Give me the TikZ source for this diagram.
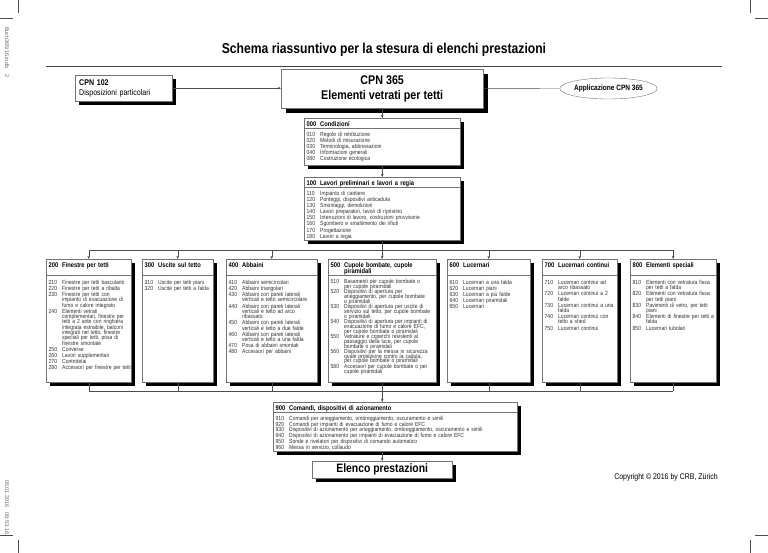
\documentclass[tikz,border=0pt]{standalone}
\usepackage{fontspec}
\setmainfont{Liberation Sans}
\newfontfamily\condfont[FakeStretch=0.85]{Liberation Sans}
\usetikzlibrary{arrows.meta,shadows,shapes.geometric}

\def\numw{13.5pt}
\def\ig{0.8pt}
\def\npkskip{5.3}
\def\headdrop{2.8pt}
\def\sepdrop{16.5pt}
\def\listdrop{19.2pt}

\tikzset{
  panel/.style={draw=black!55, line width=0.4pt, fill=white, inner sep=0pt,
    drop shadow={shadow xshift=#1, shadow yshift=-#1, fill=black, opacity=1}},
  panel/.default=4pt,
  headtext/.style={inner sep=0pt, align=left,
    font={\condfont\bfseries\fontsize{6.8}{5.8}\selectfont\lineskiplimit=-10pt\parskip=0pt}},
  itemtext/.style={inner sep=0pt, align=left, text=black!80,
    font={\condfont\fontsize{5.9}{\npkskip}\selectfont\lineskiplimit=-10pt\parskip=\ig}},
  sepline/.style={draw=black!55, line width=0.3pt},
  link/.style={draw=black!70, line width=0.4pt, -{Stealth[length=3.2pt,width=2.6pt]}},
  joinline/.style={draw=black!70, line width=0.4pt},
  crop/.style={draw=black!70, line width=0.4pt},
  margintext/.style={rotate=-90, anchor=west, inner sep=0pt, text=black!60,
    font=\fontsize{5.5}{6}\selectfont}
}

% one numbered entry, continuation lines hang under the text
\newcommand{\itm}[2]{\par\hangindent=\numw\hangafter=1\noindent\makebox[\numw][l]{#1}#2\par}

% box with header, separator and item list
\newcommand{\npkbox}[7]{%
  \node[panel, anchor=north west, minimum width=#4pt, minimum height=#5pt] (#1) at (#2,-#3) {};
  \node[headtext, text width=#4pt, anchor=north west] (#1h)
    at ([shift={(2.5pt,-\headdrop)}]#1.north west) {#6};
  \draw[sepline] ([yshift=-\sepdrop]#1.north west) -- ([yshift=-\sepdrop]#1.north east);
  \node[itemtext, text width=#4pt, anchor=north west] (#1i)
    at ([shift={(2.5pt,-\listdrop)}]#1.north west) {#7};
}

\begin{document}
\begin{tikzpicture}[x=1pt,y=1pt]
  \useasboundingbox (0,0) rectangle (768,-553);

  % Crop marks and margin notes
  \foreach \vx/\hx in {18/0,750/755}{
    \draw[crop] (\vx,0) -- (\vx,-13);
    \draw[crop] (\vx,-540) -- (\vx,-553);
    \draw[crop] (\hx,-18) -- (\hx+13,-18);
    \draw[crop] (\hx,-535) -- (\hx+13,-535);
  }
  \node[margintext] (file) at (7,-27) {Buch365i16.indb\hspace{6pt}2};
  \node[margintext] (stamp) at (7,-480) {05.01.2016\hspace{5pt}08:53:16};

  % Title and rule
  \node[font=\condfont\bfseries\fontsize{14.3}{16}\selectfont] (title) at (384,-50)
    {Schema riassuntivo per la stesura di elenchi prestazioni};
  \draw[line width=0.8pt, black!75] (46,-66) -- (722,-66);

  % Top row
  \node[panel, anchor=north west, minimum height=26pt, text width=89pt, inner xsep=4pt,
    align=left, font=\condfont\fontsize{8.3}{10}\selectfont] (cpn102) at (75,-75)
    {\textbf{CPN 102}\\Disposizioni particolari};
  \node[panel=5pt, anchor=north west, minimum width=202pt, minimum height=39pt, align=center,
    font=\condfont\bfseries\fontsize{12.6}{15.5}\selectfont] (cpn365) at (281,-69)
    {CPN 365\\Elementi vetrati per tetti};
  \node[ellipse, draw=black!55, line width=0.4pt, minimum width=87pt, minimum height=21pt,
    inner sep=0pt, font=\condfont\bfseries\fontsize{7.7}{9}\selectfont] (appl) at (608.5,-88.5)
    {Applicazione CPN 365};

  % Sections 000 and 100
  \def\headdrop{2.5pt}\def\sepdrop{9.7pt}\def\listdrop{12.2pt}
  \npkbox{c000}{304}{118}{156}{47}{\itm{000}{Condizioni}}{%
    \itm{010}{Regole di retribuzione}
    \itm{020}{Metodi di misurazione}
    \itm{030}{Terminologia, abbreviazioni}
    \itm{040}{Informazioni generali}
    \itm{080}{Costruzione ecologica}}
  \npkbox{c100}{304}{177}{156}{63}{\itm{100}{Lavori preliminari e lavori a regia}}{%
    \itm{110}{Impianto di cantiere}
    \itm{120}{Ponteggi, dispositivi anticaduta}
    \itm{130}{Smontaggi, demolizioni}
    \itm{140}{Lavori preparatori, lavori di ripristino}
    \itm{150}{Interruzioni di lavoro, costruzioni provvisorie}
    \itm{160}{Sgombero e smaltimento dei rifiuti}
    \itm{170}{Progettazione}
    \itm{180}{Lavori a regia}}

  % Main chapters
  \def\headdrop{2.8pt}\def\sepdrop{16.5pt}\def\listdrop{19.2pt}
  \npkbox{b200}{46}{259}{85}{123}{\itm{200}{Finestre per tetti}}{%
    \itm{210}{Finestre per tetti basculanti}
    \itm{220}{Finestre per tetti a ribalta}
    \itm{230}{Finestre per tetti con\newline impianto di evacuazione di\newline fumo e calore integrato}
    \itm{240}{Elementi vetrati\newline complementari, finestre per\newline tetti a 2 ante con ringhiera\newline
      integrata estraibile, balconi\newline integrati nel tetto, finestre\newline
      speciali per tetti, posa di\newline finestre smontate}
    \itm{250}{Converse}
    \itm{260}{Lavori supplementari}
    \itm{270}{Controtelai}
    \itm{280}{Accessori per finestre per tetti}}
  \npkbox{b300}{142}{259}{71}{123}{\itm{300}{Uscite sul tetto}}{%
    \itm{310}{Uscite per tetti piani}
    \itm{320}{Uscite per tetti a falda}}
  \npkbox{b400}{226}{259}{91}{123}{\itm{400}{Abbaini}}{%
    \itm{410}{Abbaini semicircolari}
    \itm{420}{Abbaini triangolari}
    \itm{430}{Abbaini con pareti laterali\newline verticali e tetto semicircolare}
    \itm{440}{Abbaini con pareti laterali\newline verticali e tetto ad arco\newline ribassato}
    \itm{450}{Abbaini con pareti laterali\newline verticali e tetto a due falde}
    \itm{460}{Abbaini con pareti laterali\newline verticali e tetto a una falda}
    \itm{470}{Posa di abbaini smontati}
    \itm{480}{Accessori per abbaini}}
  \def\npkskip{4.8}\def\ig{0.5pt}
  \npkbox{b500}{328}{259}{108}{123}{\itm{500}{Cupole bombate, cupole\newline piramidali}}{%
    \itm{510}{Basamenti per cupole bombate o\newline per cupole piramidali}
    \itm{520}{Dispositivi di apertura per\newline arieggiamento, per cupole bombate\newline o piramidali}
    \itm{530}{Dispositivi di apertura per uscite di\newline servizio sul tetto, per cupole bombate\newline o piramidali}
    \itm{540}{Dispositivi di apertura per impianti di\newline evacuazione di fumo e calore EFC,\newline per cupole bombate o piramidali}
    \itm{550}{Vetrature e coperchi resistenti al\newline passaggio della luce, per cupole\newline bombate o piramidali}
    \itm{560}{Dispositivi per la messa in sicurezza\newline quale protezione contro la caduta,\newline per cupole bombate o piramidali}
    \itm{580}{Accessori per cupole bombate o per\newline cupole piramidali}}
  \def\npkskip{5.3}\def\ig{0.8pt}
  \npkbox{b600}{447}{259}{83}{123}{\itm{600}{Lucernari}}{%
    \itm{610}{Lucernari a una falda}
    \itm{620}{Lucernari piani}
    \itm{630}{Lucernari a più falde}
    \itm{640}{Lucernari piramidali}
    \itm{650}{Lucernari}}
  \npkbox{b700}{542}{259}{75}{123}{\itm{700}{Lucernari continui}}{%
    \itm{710}{Lucernari continui ad\newline arco ribassato}
    \itm{720}{Lucernari continui a 2\newline falde}
    \itm{730}{Lucernari continui a una\newline falda}
    \itm{740}{Lucernari continui con\newline tetto a shed}
    \itm{750}{Lucernari continui}}
  \npkbox{b800}{630}{259}{86}{123}{\itm{800}{Elementi speciali}}{%
    \itm{810}{Elementi con vetratura fissa\newline per tetti a falda}
    \itm{820}{Elementi con vetratura fissa\newline per tetti piani}
    \itm{830}{Pavimenti di vetro, per tetti\newline piani}
    \itm{840}{Elementi di finestre per tetti a\newline falda}
    \itm{850}{Lucernari tubolari}}

  % Section 900
  \def\headdrop{2.5pt}\def\sepdrop{9.7pt}\def\listdrop{12.2pt}
  \def\npkskip{5.1}\def\ig{0.7pt}
  \npkbox{c900}{273}{402}{244}{49}{\itm{900}{Comandi, dispositivi di azionamento}}{%
    \itm{910}{Comandi per arieggiamento, ombreggiamento, oscuramento e simili}
    \itm{920}{Comandi per impianti di evacuazione di fumo e calore EFC}
    \itm{930}{Dispositivi di azionamento per arieggiamento, ombreggiamento, oscuramento e simili}
    \itm{940}{Dispositivi di azionamento per impianti di evacuazione di fumo e calore EFC}
    \itm{950}{Sonde e rivelatori per dispositivi di comando automatico}
    \itm{960}{Messa in servizio, collaudo}}

  % Result and copyright
  \node[panel, anchor=north west, minimum width=140pt, minimum height=17pt,
    font=\condfont\bfseries\fontsize{12.2}{13}\selectfont] (elenco) at (312,-461)
    {Elenco prestazioni};
  \node[anchor=east, inner sep=0pt, font=\condfont\fontsize{8.2}{9}\selectfont] (copy) at (718,-477)
    {Copyright © 2016 by CRB, Zürich};

  % Connectors
  \draw[link] (cpn102.east) -- (cpn102.east -| cpn365.west);
  \draw[joinline] (cpn365.east) -- (appl.west);
  \draw[link] (cpn365.south) -- (c000.north);
  \draw[link] (c000.south) -- (c100.north);
  \draw[link] (c100.south) -- (b500.north);
  \coordinate (bus) at (0,-250);
  \coordinate (busb) at (0,-391);
  \draw[joinline] (b200.north |- bus) -- (b800.north |- bus);
  \draw[joinline] (b200.south |- busb) -- (b800.south |- busb);
  \foreach \b in {b200,b300,b400,b600,b700,b800}{
    \draw[link] (\b.north |- bus) -- (\b.north);
    \draw[joinline] (\b.south) -- (\b.south |- busb);
  }
  \draw[link] (b500.south) -- (b500.south |- c900.north);
  \draw[link] (elenco.north |- c900.south) -- (elenco.north);
\end{tikzpicture}
\end{document}
